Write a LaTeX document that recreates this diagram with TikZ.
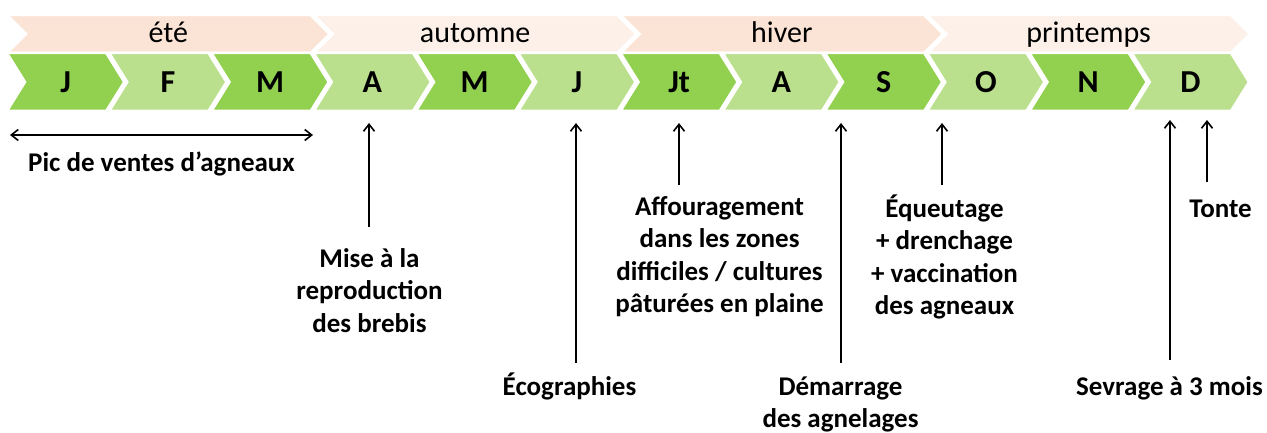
\documentclass[tikz,border=0pt]{standalone}
\usepackage{fontspec}
\setmainfont{Carlito}
\usetikzlibrary{arrows.meta,calc}
\definecolor{gdark}{RGB}{146,208,80}
\definecolor{glight}{RGB}{186,224,142}
\definecolor{speach}{RGB}{251,228,214}
\definecolor{spale}{RGB}{252,240,233}
\newcommand{\fl}{\rule{0pt}{24pt}}
\begin{document}
\begin{tikzpicture}[x=1pt,y=-1pt,
  chev/.style={draw=white,line width=2.5pt,line join=miter},
  mon/.style={font=\fontsize{32}{38}\selectfont\bfseries,inner sep=0pt,anchor=base},
  sea/.style={font=\fontsize{30}{36}\selectfont,inner sep=0pt,anchor=base},
  lab/.style={font=\fontsize{27}{32.4}\selectfont\bfseries,align=center,inner sep=0pt,anchor=north},
  arr/.style={line width=1.6pt,-{Straight Barb[length=7pt,width=11pt,line width=1.6pt]}},
  darr/.style={line width=1.6pt,{Straight Barb[length=7pt,width=11pt,line width=1.6pt]}-{Straight Barb[length=7pt,width=11pt,line width=1.6pt]}},
]
\useasboundingbox (0,0) rectangle (1267,433);
\def\p{102.25}
% seasons
\foreach \k/\txt/\col in {0/été/speach,1/automne/spale,2/hiver/speach,3/printemps/spale}{
  \pgfmathsetmacro\a{8+3*\p*\k-1}
  \pgfmathsetmacro\b{8+3*\p*(\k+1)-4}
  \path[fill=\col,chev] (\a,15) -- (\b,15) -- (\b+19,34) -- (\b,53) -- (\a,53) -- (\a+19,34) -- cycle;
  \node[sea] (s\k) at ({(\a+\b)/2+9.5},43) {\txt};
}
% months
\foreach \i/\m/\col in {0/J/gdark,1/F/glight,2/M/gdark,3/A/glight,4/M/gdark,5/J/glight,6/Jt/gdark,7/A/glight,8/S/gdark,9/O/glight,10/N/gdark,11/D/glight}{
  \pgfmathsetmacro\a{8+\p*\i-1}
  \pgfmathsetmacro\b{8+\p*(\i+1)-4}
  \path[fill=\col,chev] (\a,53) -- (\b,53) -- (\b+18,82) -- (\b,111) -- (\a,111) -- (\a+18,82) -- cycle;
  \node[mon] (m\i) at ({(\a+\b)/2+9},93) {\m};
}
% labels (north = baseline - 24)
\node[lab] (pic) at (161.5,147) {\fl Pic de ventes d’agneaux};
\node[lab] (mise) at (369.5,243) {\fl Mise à la\\reproduction\\des brebis};
\node[lab] (eco) at (569.5,371) {\fl Écographies};
\node[lab] (aff) at (719.5,191) {\fl Affouragement\\dans les zones\\difficiles / cultures\\pâturées en plaine};
\node[lab] (dem) at (840.5,371) {\fl Démarrage\\des agnelages};
\node[lab] (equ) at (944.5,193) {\fl Équeutage\\+ drenchage\\+ vaccination\\des agneaux};
\node[lab] (sev) at (1169.5,371) {\fl Sevrage à 3 mois};
\node[lab] (ton) at (1220.5,193) {\fl Tonte};
% arrow tips on the timeline
\coordinate (tMise) at (369,123);
\coordinate (tEco) at (576,123);
\coordinate (tAff) at (679,123);
\coordinate (tDem) at (841,123);
\coordinate (tEqu) at (942,123);
\coordinate (tSev) at (1170,120);
\coordinate (tTon) at (1207,120);
\coordinate (picL) at (10,135);
\coordinate (picR) at (313,135);
\draw[darr] (picL) -- (picR);
\draw[arr,shorten <=16pt] (mise.north -| tMise) -- (tMise);
\draw[arr,shorten <=8pt] (eco.north -| tEco) -- (tEco);
\draw[arr,shorten <=6pt] (aff.north -| tAff) -- (tAff);
\draw[arr,shorten <=8pt] (dem.north -| tDem) -- (tDem);
\draw[arr,shorten <=8pt] (equ.north -| tEqu) -- (tEqu);
\draw[arr,shorten <=11pt] (sev.north -| tSev) -- (tSev);
\draw[arr,shorten <=11pt] (ton.north -| tTon) -- (tTon);
\end{tikzpicture}
\end{document}
